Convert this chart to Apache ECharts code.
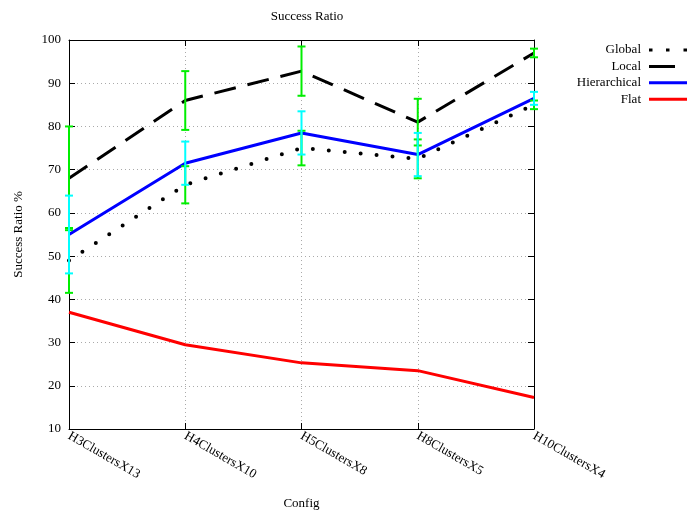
<!DOCTYPE html>
<html>
<head>
<meta charset="utf-8">
<script src="https://cdn.jsdelivr.net/npm/echarts@6/dist/echarts.min.js"></script>
<style>html,body{margin:0;padding:0;background:#fff}#c{width:689px;height:516px}</style>
</head>
<body>
<div id="c"></div>
<script>
const categories = ['H3ClustersX13','H4ClustersX10','H5ClustersX8','H8ClustersX5','H10ClustersX4'];
const globalVals = [49, 66.5, 75, 72.5, 85];
const localVals = [68, 86, 92.8, 81, 97];
const hierVals = [55, 71.5, 78.5, 73.5, 86.5];
const flatVals = [37, 29.5, 25.3, 23.5, 17.3];
const globalErr = [7.5, 4.3, 4, 4.5, 1];
const localErr = [12, 6.8, 5.7, 5.4, 1];
const hierErr = [9, 5, 5, 5, 1.5];
const yTicks = [10, 20, 30, 40, 50, 60, 70, 80, 90, 100];

const FONT = '"Liberation Serif", "DejaVu Serif", serif';

function errData(vals, errs) {
  return vals.map((v, i) => [i, v - errs[i], v + errs[i]]);
}
function errSeries(vals, errs, color) {
  return {
    type: 'custom',
    silent: true,
    z: 5,
    data: errData(vals, errs),
    encode: { x: 0, y: [1, 2] },
    renderItem: function (params, api) {
      const x = api.value(0);
      const lo = api.coord([x, api.value(1)]);
      const hi = api.coord([x, api.value(2)]);
      const w = 4;
      const st = { stroke: color, lineWidth: 2 };
      return {
        type: 'group',
        children: [
          { type: 'line', shape: { x1: lo[0], y1: lo[1], x2: hi[0], y2: hi[1] }, style: st },
          { type: 'line', shape: { x1: lo[0] - w, y1: lo[1], x2: lo[0] + w, y2: lo[1] }, style: st },
          { type: 'line', shape: { x1: hi[0] - w, y1: hi[1], x2: hi[0] + w, y2: hi[1] }, style: st }
        ]
      };
    }
  };
}

const iconDots = 'path://M0,0h3.5v3h-3.5zM17,0h3.5v3h-3.5zM34.5,0h3.5v3h-3.5z';
const iconDash = 'path://M0,0h26v3h-26zM38,0M38,3';
const iconSolid = 'path://M0,0h38v3h-38z';

const chart = echarts.init(document.getElementById('c'));
chart.setOption({
  animation: false,
  backgroundColor: '#fff',
  title: {
    text: 'Success Ratio',
    left: 302, top: 5, textAlign: 'center',
    textStyle: { fontFamily: FONT, fontSize: 13, fontWeight: 'normal', color: '#000' }
  },
  legend: {
    orient: 'vertical',
    right: 2, top: 43.5,
    padding: 0,
    align: 'right',
    itemWidth: 38, itemHeight: 3, itemGap: 3.4,
    textStyle: { fontFamily: FONT, fontSize: 13, color: '#000', padding: [0, 3, 0, 0] },
    data: [
      { name: 'Global', icon: iconDots },
      { name: 'Local', icon: iconDash },
      { name: 'Hierarchical', icon: iconSolid },
      { name: 'Flat', icon: iconSolid }
    ]
  },
  grid: { left: 69, right: 155, top: 40, bottom: 87, containLabel: false },
  xAxis: [{
    type: 'category',
    data: categories,
    boundaryGap: false,
    name: 'Config',
    nameLocation: 'middle',
    nameGap: 68,
    nameTextStyle: { fontFamily: FONT, fontSize: 13, color: '#000' },
    axisLine: { lineStyle: { color: '#000', width: 1 } },
    axisTick: { inside: true, length: 6, lineStyle: { color: '#000' } },
    axisLabel: { rotate: -30, fontFamily: FONT, fontSize: 13, color: '#000', margin: 6 },
    splitLine: { show: true, lineStyle: { color: '#aaa', type: [1, 3] } }
  }, {
    type: 'category',
    data: categories,
    boundaryGap: false,
    position: 'top',
    axisLine: { lineStyle: { color: '#000', width: 1 } },
    axisTick: { inside: true, length: 6, lineStyle: { color: '#000' } },
    axisLabel: { show: false }
  }],
  yAxis: [{
    type: 'value',
    min: 10, max: 100, interval: 10,
    name: 'Success Ratio %',
    nameLocation: 'middle',
    nameGap: 44,
    nameTextStyle: { fontFamily: FONT, fontSize: 13, color: '#000' },
    axisLine: { show: true, lineStyle: { color: '#000', width: 1 } },
    axisTick: { show: true, inside: true, length: 6, lineStyle: { color: '#000' } },
    axisLabel: { fontFamily: FONT, fontSize: 13, color: '#000', margin: 8,
      formatter: function (v) { return yTicks.indexOf(v) >= 0 ? String(v) : ''; } },
    splitLine: { show: true, lineStyle: { color: '#aaa', type: [1, 3] } }
  }, {
    type: 'value',
    min: 10, max: 100, interval: 10,
    position: 'right',
    axisLine: { show: true, lineStyle: { color: '#000', width: 1 } },
    axisTick: { show: true, inside: true, length: 6, lineStyle: { color: '#000' } },
    axisLabel: { show: false },
    splitLine: { show: false }
  }],
  series: [
    {
      name: 'Global', type: 'line', data: globalVals, symbol: 'none', z: 3,
      color: '#000',
      lineStyle: { color: '#000', width: 4, type: [0, 16], cap: 'round' }
    },
    {
      name: 'Local', type: 'line', data: localVals, symbol: 'none', z: 3,
      color: '#000',
      lineStyle: { color: '#000', width: 3, type: [22, 12] }
    },
    {
      name: 'Hierarchical', type: 'line', data: hierVals, symbol: 'none', z: 3,
      color: '#0000ff',
      lineStyle: { color: '#0000ff', width: 3 }
    },
    {
      name: 'Flat', type: 'line', data: flatVals, symbol: 'none', z: 3,
      color: '#ff0000',
      lineStyle: { color: '#ff0000', width: 3 }
    },
    errSeries(globalVals, globalErr, '#00ee00'),
    errSeries(localVals, localErr, '#00ee00'),
    errSeries(hierVals, hierErr, '#00ffff')
  ]
});
</script>
</body>
</html>
